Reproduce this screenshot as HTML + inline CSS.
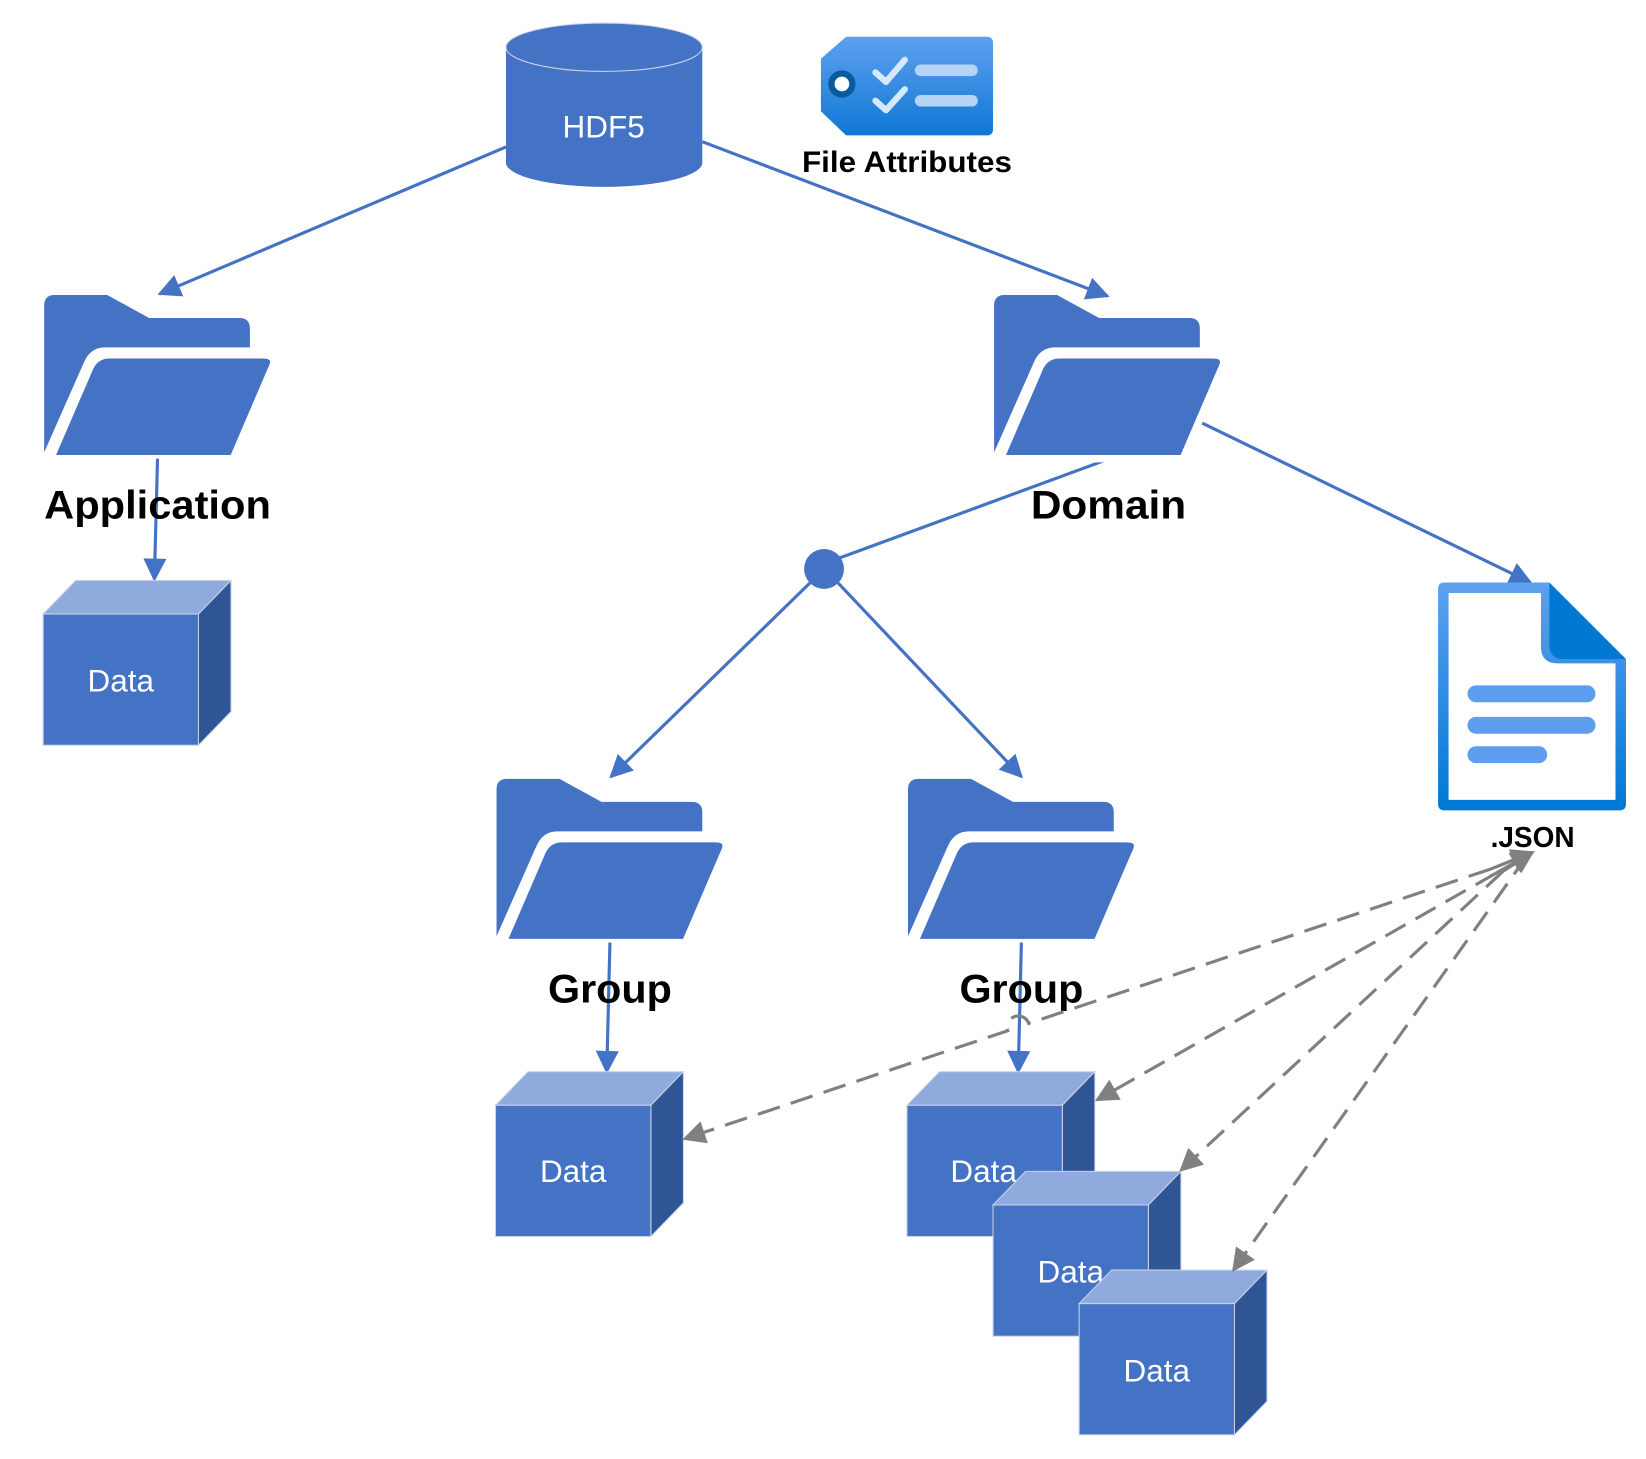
<!DOCTYPE html>
<html><head><meta charset="utf-8"><style>html,body{margin:0;padding:0;background:#fff}svg{display:block}</style></head>
<body>
<svg width="1646" height="1459" viewBox="0 0 1568 1390" xmlns="http://www.w3.org/2000/svg" font-family="Liberation Sans, sans-serif">
<defs>
<marker id="ab" markerWidth="10" markerHeight="10" refX="9" refY="5" orient="auto" markerUnits="userSpaceOnUse" viewBox="0 0 10 10"><path d="M0,0 L10,5 L0,10 Z" fill="#4472C4"/></marker>
<marker id="ag" viewBox="0 0 10 10" refX="9" refY="5" markerWidth="24" markerHeight="22" orient="auto" markerUnits="userSpaceOnUse"><path d="M0,0 L10,5 L0,10 Z" fill="#808080"/></marker>
<marker id="abl" viewBox="0 0 10 10" refX="9" refY="5" markerWidth="26" markerHeight="22" orient="auto" markerUnits="userSpaceOnUse"><path d="M0,0 L10,5 L0,10 Z" fill="#4472C4"/></marker>
<g id="folder">
<path d="M0,10 Q0,0 10,0 L60,0 L100,22 L186,22 Q196,22 196,32 L196,50 L58,50 Q44,50 38,64 L0,150 Z" fill="#4472C4"/>
<path d="M44,68 Q50,57 62,57 L208,57 Q224,57 216,72 L180,156 L6,156 Z" fill="#4472C4" stroke="#fff" stroke-width="7"/>
</g>
<g id="cube">
<path d="M0,32 L31,0 L179,0 L148,32 Z" fill="#8FAADC" stroke="#c9d3e6" stroke-width="1"/>
<path d="M148,32 L179,0 L179,125 L148,157 Z" fill="#2F5597" stroke="#c9d3e6" stroke-width="1"/>
<rect x="0" y="32" width="148" height="125" fill="#4472C4" stroke="#c9d3e6" stroke-width="1"/>
</g>
<linearGradient id="tg" x1="0" y1="0" x2="0" y2="1"><stop offset="0" stop-color="#5EA0EF"/><stop offset="1" stop-color="#0F78D4"/></linearGradient>
<linearGradient id="dg" x1="0" y1="0" x2="0" y2="1"><stop offset="0" stop-color="#5EA0EF"/><stop offset="1" stop-color="#0078D4"/></linearGradient>
</defs>

<!-- blue connectors -->
<g stroke="#4472C4" stroke-width="3" fill="none">
<line x1="482" y1="140" x2="152" y2="280" marker-end="url(#abl)"/>
<line x1="669" y1="135" x2="1055" y2="282" marker-end="url(#abl)"/>
<line x1="1057" y1="437" x2="785" y2="537"/>
<line x1="772" y1="555" x2="582" y2="740" marker-end="url(#abl)"/>
<line x1="798" y1="555" x2="973" y2="740" marker-end="url(#abl)"/>
<line x1="1143" y1="402" x2="1458" y2="555" marker-end="url(#abl)"/>
</g>
<circle cx="785" cy="542" r="19" fill="#4472C4"/>

<!-- HDF5 cylinder -->
<path d="M482,45 L482,155 A93.5,23 0 0 0 669,155 L669,45 Z" fill="#4472C4"/>
<ellipse cx="575.5" cy="45" rx="93.5" ry="23" fill="#4472C4" stroke="#c9d3e6" stroke-width="1"/>
<text x="575" y="131" fill="#fff" font-size="30" text-anchor="middle">HDF5</text>

<!-- tag -->
<path d="M806,35 L940,35 Q946,35 946,41 L946,123 Q946,129 940,129 L806,129 L782,106 L782,56 Z" fill="url(#tg)"/>
<circle cx="802" cy="80" r="10" fill="#fff" stroke="#0A5A9E" stroke-width="6"/>
<path d="M834,69 L844,78 L862,57 M834,96 L844,105 L862,85" stroke="#d6e8fb" stroke-width="6" fill="none" stroke-linecap="round" stroke-linejoin="round"/>
<path d="M877,67 L926,67 M877,96 L926,96" stroke="#b5d4f5" stroke-width="11" stroke-linecap="round"/>
<text x="864" y="164" font-size="28" font-weight="bold" text-anchor="middle" textLength="200" lengthAdjust="spacingAndGlyphs">File Attributes</text>

<!-- folders -->
<use href="#folder" x="42" y="281"/>
<use href="#folder" x="947" y="281"/>
<use href="#folder" x="473" y="742"/>
<use href="#folder" x="865" y="742"/>

<!-- JSON doc -->
<path d="M1376,555 L1476,555 L1549,628 L1549,766 Q1549,772 1543,772 L1376,772 Q1370,772 1370,766 L1370,561 Q1370,555 1376,555 Z" fill="url(#dg)"/>
<path d="M1380,565 L1468,565 L1468,616 Q1468,632 1484,632 L1539,632 L1539,762 L1380,762 Z" fill="#fff"/>
<path d="M1476,555 L1549,628 L1490,628 Q1476,628 1476,614 Z" fill="#0078D4"/>
<path d="M1406,661 L1512,661 M1406,691 L1512,691 M1406,719 L1466,719" stroke="#5E9EEE" stroke-width="16" stroke-linecap="round"/>
<text x="1460" y="807" font-size="27" font-weight="bold" text-anchor="middle" textLength="80" lengthAdjust="spacingAndGlyphs">.JSON</text>

<!-- blue vertical arrows -->
<g stroke="#4472C4" stroke-width="3" fill="none">
<line x1="150" y1="437" x2="147" y2="552" marker-end="url(#abl)"/>
<line x1="581" y1="898" x2="578" y2="1021" marker-end="url(#abl)"/>
<line x1="973" y1="898" x2="970" y2="1021" marker-end="url(#abl)"/>
</g>

<!-- labels -->
<g font-size="38" font-weight="bold" text-anchor="middle" fill="#000">
<text x="150" y="494" textLength="216" lengthAdjust="spacingAndGlyphs">Application</text>
<text x="1056" y="494" textLength="148" lengthAdjust="spacingAndGlyphs">Domain</text>
<text x="581" y="955" textLength="118" lengthAdjust="spacingAndGlyphs">Group</text>
<text x="973" y="955" textLength="118" lengthAdjust="spacingAndGlyphs">Group</text>
</g>

<!-- cubes -->
<use href="#cube" x="41" y="553"/>
<use href="#cube" x="472" y="1021"/>
<use href="#cube" x="864" y="1021"/>
<text x="937" y="1126" fill="#fff" font-size="30" text-anchor="middle">Data</text>
<use href="#cube" x="946" y="1116"/>
<text x="1020" y="1222" fill="#fff" font-size="30" text-anchor="middle">Data</text>
<use href="#cube" x="1028" y="1210"/>
<g fill="#fff" font-size="30" text-anchor="middle">
<text x="115" y="659">Data</text>
<text x="546" y="1126">Data</text>
<text x="1102" y="1316">Data</text>
</g>

<!-- gray dashed -->
<g stroke="#808080" stroke-width="3" fill="none" stroke-dasharray="22,11">
<path d="M1420,828 L980,975 A10,10 0 0 0 960,982 L652,1085" marker-end="url(#ag)"/>
<line x1="1425" y1="832" x2="1045" y2="1048" marker-end="url(#ag)"/>
<line x1="1432" y1="830" x2="1125" y2="1115" marker-end="url(#ag)"/>
<line x1="1455" y1="815" x2="1175" y2="1210" marker-end="url(#ag)"/>
</g>
<g stroke="#808080" stroke-width="3" fill="none">
<line x1="1420" y1="828" x2="1460" y2="812" marker-end="url(#ag)"/>
<line x1="1425" y1="832" x2="1460" y2="812" marker-end="url(#ag)"/>
<line x1="1432" y1="830" x2="1460" y2="812" marker-end="url(#ag)"/>
</g>
</svg>
</body></html>
